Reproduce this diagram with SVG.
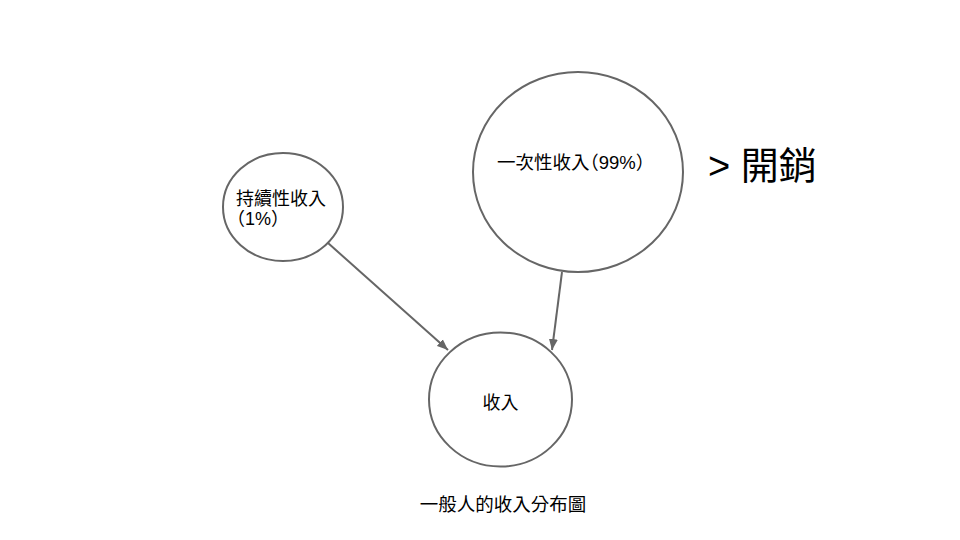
<svg xmlns="http://www.w3.org/2000/svg" width="960" height="540" viewBox="0 0 960 540">
<style>
.node{fill:#fff;stroke:#666;stroke-width:2}
.lbl{font-family:"Liberation Sans","Noto Sans CJK TC",sans-serif;fill:#000}
.halt{font-feature-settings:"halt" 1}
.edge{stroke:#666;stroke-width:2;fill:none}
</style>
<defs>
<marker id="arr" markerUnits="userSpaceOnUse" markerWidth="12" markerHeight="10" refX="11" refY="5" orient="auto">
<path d="M0,0.5 L11,5 L0,9.5 z" fill="#666"/>
</marker>
</defs>
<rect width="960" height="540" fill="#fff"/>
<g id="node-continuous">
<ellipse class="node" cx="283" cy="207" rx="60" ry="54"/>
<text class="lbl" x="236" y="205" font-size="18">持續性收入</text>
<text class="lbl halt" x="236" y="225" font-size="18">（1%）</text>
</g>
<g id="node-onetime">
<ellipse class="node" cx="578" cy="172" rx="105" ry="100"/>
<text class="lbl halt" x="497" y="169" font-size="18.5">一次性收入（99%）</text>
</g>
<g id="node-income">
<ellipse class="node" cx="500.5" cy="399.5" rx="71.5" ry="67"/>
<text class="lbl" x="500.5" y="409" font-size="18" text-anchor="middle">收入</text>
</g>
<g id="note-expense">
<text class="lbl" x="708" y="179" font-size="38">&gt; 開銷</text>
</g>
<g id="caption">
<text class="lbl" x="503" y="511" font-size="18.5" text-anchor="middle">一般人的收入分布圖</text>
</g>
<g id="connectors">
<line class="edge" x1="328" y1="243" x2="448" y2="350" marker-end="url(#arr)"/>
<line class="edge" x1="562" y1="272" x2="552" y2="350" marker-end="url(#arr)"/>
</g>
</svg>
